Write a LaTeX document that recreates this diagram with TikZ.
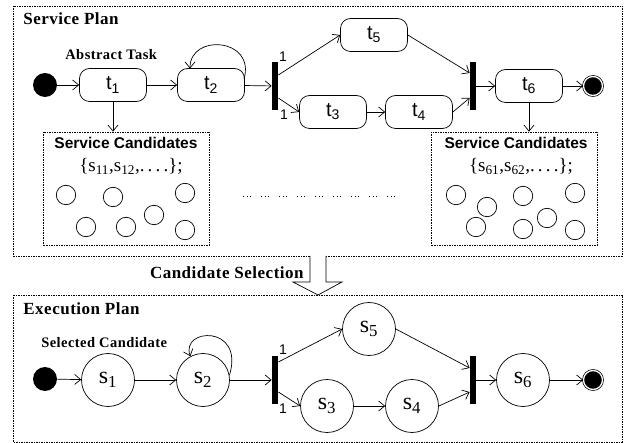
\documentclass[tikz,border=0pt]{standalone}
\usepackage{fontspec}
\setmainfont{Liberation Serif}
\setsansfont{Liberation Sans}
\newfontfamily\widebf[LetterSpace=3]{Liberation Serif}
\usetikzlibrary{arrows.meta}

\begin{document}
\begin{tikzpicture}[x=1pt,y=-1pt,line width=0.7pt,
        >={Straight Barb[length=6pt,width=10pt]},
        frame/.style={dash pattern=on 1.5pt off 1pt},
        title/.style={font=\widebf\bfseries\fontsize{17}{20}\selectfont,inner sep=0pt},
        note/.style={font=\widebf\bfseries\fontsize{14.5}{16}\selectfont,inner sep=0pt},
        task/.style={draw,rounded corners=10pt,minimum width=67pt,minimum height=33pt,inner sep=0pt,font=\sffamily\fontsize{20}{22}\selectfont},
        state/.style={draw,circle,minimum size=53pt,inner sep=0pt,font=\fontsize{24}{26}\selectfont},
        bar/.style={fill=black,minimum width=6pt,minimum height=48pt,inner sep=0pt},
        start/.style={circle,fill=black,minimum size=24pt,inner sep=0pt},
        final/.style={circle,draw,fill=black,double,double distance=1.3pt,minimum size=19pt,inner sep=0pt},
        candbox/.style={draw,frame,minimum width=166pt,minimum height=113pt},
        one/.style={font=\sffamily\fontsize{14}{16}\selectfont,inner sep=0pt}]

    \useasboundingbox (0,0) rectangle (626,443);

    % service plan
    \draw[frame] (13,6) rectangle (622,256);
    \node[title,anchor=base west] (sp) at (23,25) {Service Plan};
    \node[note,anchor=base west] (at) at (65,60) {Abstract Task};

    \node[start] (init1) at (45,85) {};
    \node[task] (t1) at (113,85) {t\textsubscript{1}};
    \node[task] (t2) at (211,85) {t\textsubscript{2}};
    \node[bar] (bar1) at (275,86) {};
    \node[task] (t5) at (374,35) {t\textsubscript{5}};
    \node[task] (t3) at (333,112) {t\textsubscript{3}};
    \node[task] (t4) at (419,112) {t\textsubscript{4}};
    \node[bar] (bar2) at (473,86) {};
    \node[task] (t6) at (529,86) {t\textsubscript{6}};
    \node[final] (fin1) at (593,86) {};
    \node[one] (o1) at (283,57) {1};
    \node[one] (o2) at (284,115) {1};

    \draw[->] (init1) -- (t1);
    \draw[->] (t1) -- (t2);
    \draw[->] (t2) -- (bar1);
    \draw[->] (244,79) .. controls (256,38) and (190,33) .. (190,68.5);
    \draw[->] ([yshift=11pt]bar1.east) -- (t5.west);
    \draw[->] ([yshift=-12pt]bar1.east) -- (t3.west);
    \draw[->] (t3) -- (t4);
    \draw[->] (t5.east) -- ([yshift=13pt]bar2.west);
    \draw[->] (t4.east) -- ([yshift=-12pt]bar2.west);
    \draw[->] (bar2) -- (t6);
    \draw[->] (t6) -- (fin1);

    % candidate sets
    \node[candbox] (cand1) at (126.5,188.5) {};
    \node[candbox] (cand6) at (514.5,188.5) {};
    \draw[->] (t1.south) -- (t1.south |- cand1.north);
    \draw[->] (t6.south) -- (t6.south |- cand6.north);
    \node[anchor=base,inner sep=0pt,font=\sffamily\bfseries\fontsize{15.5}{17}\selectfont] (sc1) at (126,149) {Service Candidates};
    \node[anchor=base,inner sep=0pt,font=\sffamily\bfseries\fontsize{15.5}{17}\selectfont] (sc6) at (516,149) {Service Candidates};
    \node[anchor=base,inner sep=0pt,font=\fontsize{19}{21}\selectfont] (set1) at (131,172) {\{s\textsubscript{11},s\textsubscript{12},.\,.\,.\,.\};};
    \node[anchor=base,inner sep=0pt,font=\fontsize{19}{21}\selectfont] (set6) at (521,172) {\{s\textsubscript{61},s\textsubscript{62},.\,.\,.\,.\};};
    \foreach \x/\y in {66/195,113/197,185/193,154/215,86/227,126/227,185/230}
        \draw (\x,\y) circle (9.7pt);
    \foreach \x/\y in {456/195,487/207,523/196,575/193,476/227,523/229,547/218,575/230}
        \draw (\x,\y) circle (9.7pt);
    \draw[dash pattern=on 1pt off 2.5pt on 1pt off 2.5pt on 1pt off 10pt] (243,196) -- (402,196);

    % selection arrow
    \draw[fill=white] (310,256) -- (310,282) -- (293,282) -- (318,295)
        -- (342,282) -- (326,282) -- (326,256);
    \node[title,anchor=base east] (cs) at (304,279) {Candidate Selection};

    % execution plan
    \draw[frame] (13,295) rectangle (622,442);
    \node[title,anchor=base west] (ep) at (23,315) {Execution Plan};
    \node[note,anchor=base west] (sel) at (41,347) {Selected Candidate};

    \node[start] (init2) at (45,379) {};
    \node[state] (s1) at (108,380) {s\textsubscript{1}};
    \node[state] (s2) at (203,380) {s\textsubscript{2}};
    \node[bar] (bar3) at (275,380) {};
    \node[state] (s5) at (369,329) {s\textsubscript{5}};
    \node[state] (s3) at (327,406) {s\textsubscript{3}};
    \node[state] (s4) at (412,406) {s\textsubscript{4}};
    \node[bar] (bar4) at (473,380) {};
    \node[state] (s6) at (523,380) {s\textsubscript{6}};
    \node[final] (fin2) at (593,380) {};
    \node[one] (o3) at (283,350) {1};
    \node[one] (o4) at (283,409) {1};

    \draw[->] (init2) -- (s1);
    \draw[->] (s1) -- (s2);
    \draw[->] (s2) -- (bar3);
    \draw[->] (s2.10) .. controls (245,324) and (180,328) .. (s2.118);
    \draw[->] ([yshift=18pt]bar3.east) -- (s5.west);
    \draw[->] ([yshift=-12pt]bar3.east) -- (s3.west);
    \draw[->] (s3) -- (s4);
    \draw[->] (s5.east) -- ([yshift=12pt]bar4.west);
    \draw[->] (s4.east) -- ([yshift=-12pt]bar4.west);
    \draw[->] (bar4) -- (s6);
    \draw[->] (s6) -- (fin2);
\end{tikzpicture}
\end{document}
